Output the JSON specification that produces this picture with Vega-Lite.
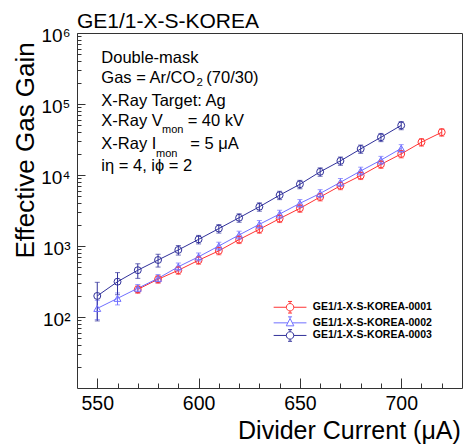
{
  "$schema": "https://vega.github.io/schema/vega-lite/v6.json",
  "width": 385,
  "height": 355,
  "autosize": {"type": "none"},
  "padding": {"left": 77, "top": 33, "right": 1, "bottom": 56},
  "background": "white",
  "title": {"text": "GE1/1-X-S-KOREA", "anchor": "start", "frame": "group", "font": "Liberation Sans", "fontSize": 21, "fontWeight": "normal", "color": "black", "baseline": "alphabetic", "offset": -23},
  "config": {
    "view": {"stroke": "#333", "strokeWidth": 1},
    "font": "Liberation Sans"
  },
  "datasets": {
    "gain": [
      {"series": "GE1/1-X-S-KOREA-0001", "x": 570, "g": 245, "lo": 216, "hi": 274},
      {"series": "GE1/1-X-S-KOREA-0001", "x": 580, "g": 340, "lo": 299, "hi": 381},
      {"series": "GE1/1-X-S-KOREA-0001", "x": 590, "g": 455, "lo": 400, "hi": 510},
      {"series": "GE1/1-X-S-KOREA-0001", "x": 600, "g": 630, "lo": 554, "hi": 706},
      {"series": "GE1/1-X-S-KOREA-0001", "x": 610, "g": 855, "lo": 752, "hi": 958},
      {"series": "GE1/1-X-S-KOREA-0001", "x": 620, "g": 1230, "lo": 1082, "hi": 1378},
      {"series": "GE1/1-X-S-KOREA-0001", "x": 630, "g": 1720, "lo": 1514, "hi": 1926},
      {"series": "GE1/1-X-S-KOREA-0001", "x": 640, "g": 2430, "lo": 2138, "hi": 2722},
      {"series": "GE1/1-X-S-KOREA-0001", "x": 650, "g": 3390, "lo": 2983, "hi": 3797},
      {"series": "GE1/1-X-S-KOREA-0001", "x": 660, "g": 4900, "lo": 4312, "hi": 5488},
      {"series": "GE1/1-X-S-KOREA-0001", "x": 670, "g": 7050, "lo": 6204, "hi": 7896},
      {"series": "GE1/1-X-S-KOREA-0001", "x": 680, "g": 9800, "lo": 8624, "hi": 10976},
      {"series": "GE1/1-X-S-KOREA-0001", "x": 690, "g": 14100, "lo": 12408, "hi": 15792},
      {"series": "GE1/1-X-S-KOREA-0001", "x": 700, "g": 19800, "lo": 17424, "hi": 22176},
      {"series": "GE1/1-X-S-KOREA-0001", "x": 710, "g": 29000, "lo": 25520, "hi": 32480},
      {"series": "GE1/1-X-S-KOREA-0001", "x": 720, "g": 40000, "lo": 35200, "hi": 44800},
      {"series": "GE1/1-X-S-KOREA-0002", "x": 550, "g": 132, "lo": 92, "hi": 172},
      {"series": "GE1/1-X-S-KOREA-0002", "x": 560, "g": 183, "lo": 148, "hi": 218},
      {"series": "GE1/1-X-S-KOREA-0002", "x": 570, "g": 254, "lo": 221, "hi": 287},
      {"series": "GE1/1-X-S-KOREA-0002", "x": 580, "g": 350, "lo": 305, "hi": 396},
      {"series": "GE1/1-X-S-KOREA-0002", "x": 590, "g": 510, "lo": 444, "hi": 576},
      {"series": "GE1/1-X-S-KOREA-0002", "x": 600, "g": 705, "lo": 613, "hi": 797},
      {"series": "GE1/1-X-S-KOREA-0002", "x": 610, "g": 1000, "lo": 870, "hi": 1130},
      {"series": "GE1/1-X-S-KOREA-0002", "x": 620, "g": 1430, "lo": 1244, "hi": 1616},
      {"series": "GE1/1-X-S-KOREA-0002", "x": 630, "g": 2020, "lo": 1757, "hi": 2283},
      {"series": "GE1/1-X-S-KOREA-0002", "x": 640, "g": 2820, "lo": 2453, "hi": 3187},
      {"series": "GE1/1-X-S-KOREA-0002", "x": 650, "g": 3990, "lo": 3471, "hi": 4509},
      {"series": "GE1/1-X-S-KOREA-0002", "x": 660, "g": 5500, "lo": 4785, "hi": 6215},
      {"series": "GE1/1-X-S-KOREA-0002", "x": 670, "g": 7900, "lo": 6873, "hi": 8927},
      {"series": "GE1/1-X-S-KOREA-0002", "x": 680, "g": 11400, "lo": 9918, "hi": 12882},
      {"series": "GE1/1-X-S-KOREA-0002", "x": 690, "g": 16200, "lo": 14094, "hi": 18306},
      {"series": "GE1/1-X-S-KOREA-0002", "x": 700, "g": 23700, "lo": 20619, "hi": 26781},
      {"series": "GE1/1-X-S-KOREA-0003", "x": 550, "g": 198, "lo": 88, "hi": 308},
      {"series": "GE1/1-X-S-KOREA-0003", "x": 560, "g": 314, "lo": 206, "hi": 422},
      {"series": "GE1/1-X-S-KOREA-0003", "x": 570, "g": 456, "lo": 350, "hi": 562},
      {"series": "GE1/1-X-S-KOREA-0003", "x": 580, "g": 635, "lo": 505, "hi": 765},
      {"series": "GE1/1-X-S-KOREA-0003", "x": 590, "g": 880, "lo": 745, "hi": 1015},
      {"series": "GE1/1-X-S-KOREA-0003", "x": 600, "g": 1240, "lo": 1070, "hi": 1410},
      {"series": "GE1/1-X-S-KOREA-0003", "x": 610, "g": 1760, "lo": 1520, "hi": 2000},
      {"series": "GE1/1-X-S-KOREA-0003", "x": 620, "g": 2500, "lo": 2160, "hi": 2840},
      {"series": "GE1/1-X-S-KOREA-0003", "x": 630, "g": 3570, "lo": 3090, "hi": 4050},
      {"series": "GE1/1-X-S-KOREA-0003", "x": 640, "g": 5200, "lo": 4500, "hi": 5900},
      {"series": "GE1/1-X-S-KOREA-0003", "x": 650, "g": 7400, "lo": 6400, "hi": 8400},
      {"series": "GE1/1-X-S-KOREA-0003", "x": 660, "g": 11100, "lo": 9600, "hi": 12600},
      {"series": "GE1/1-X-S-KOREA-0003", "x": 670, "g": 15800, "lo": 13700, "hi": 17900},
      {"series": "GE1/1-X-S-KOREA-0003", "x": 680, "g": 23300, "lo": 20200, "hi": 26400},
      {"series": "GE1/1-X-S-KOREA-0003", "x": 690, "g": 34000, "lo": 29500, "hi": 38500},
      {"series": "GE1/1-X-S-KOREA-0003", "x": 700, "g": 50000, "lo": 43400, "hi": 56600}
    ]
  },
  "resolve": {"scale": {"color": "independent", "shape": "independent"}, "axis": {"x": "independent", "y": "independent"}},
  "layer": [
    {
      "data": {"name": "gain"},
      "mark": {"type": "line", "strokeWidth": 1},
      "encoding": {
        "x": {
          "field": "x", "type": "quantitative",
          "scale": {"domain": [540, 730], "nice": false, "zero": false},
          "axis": {
            "orient": "bottom",
            "values": [550, 600, 650, 700],
            "tickSize": -10,
            "tickColor": "#333", "tickWidth": 1,
            "domain": false, "grid": false,
            "labelFont": "Liberation Sans", "labelFontSize": 19.5, "labelColor": "black",
            "labelBaseline": "alphabetic", "labelPadding": 31,
            "labelOverlap": false, "labelFlush": false,
            "title": "Divider Current (μA)",
            "titleFont": "Liberation Sans", "titleFontSize": 25, "titleFontWeight": "normal", "titleColor": "black",
            "titleX": 383.3, "titleY": 50.3, "titleAlign": "right", "titleBaseline": "alphabetic"
          }
        },
        "y": {
          "field": "g", "type": "quantitative",
          "scale": {"type": "log", "domain": [10, 1000000], "nice": false, "zero": false},
          "axis": {
            "orient": "left",
            "values": [100, 1000, 10000, 100000, 1000000],
            "labelExpr": "datum.value === 100 ? '10²' : datum.value === 1000 ? '10³' : datum.value === 10000 ? '10⁴' : datum.value === 100000 ? '10⁵' : '10⁶'",
            "tickSize": -8,
            "tickColor": "#333", "tickWidth": 1,
            "domain": false, "grid": false,
            "labelFont": "Liberation Sans", "labelFontSize": 19, "labelColor": "black",
            "labelBaseline": "middle", "labelPadding": 15, "labelOffset": 2,
            "labelOverlap": false, "labelFlush": false,
            "title": "Effective Gas Gain",
            "titleFont": "Liberation Sans", "titleFontSize": 26, "titleFontWeight": "normal", "titleColor": "black",
            "titleAngle": -90, "titleX": -43.7, "titleY": 8.7, "titleAlign": "right", "titleBaseline": "alphabetic"
          }
        },
        "detail": {"field": "series"},
        "color": {"field": "series", "type": "nominal", "legend": null,
          "scale": {"domain": ["GE1/1-X-S-KOREA-0001", "GE1/1-X-S-KOREA-0002", "GE1/1-X-S-KOREA-0003"], "range": ["#ff3333", "#7070ff", "#30309a"]}}
      }
    },
    {
      "data": {"name": "gain"},
      "mark": {"type": "errorbar", "ticks": {"size": 5, "thickness": 1}, "rule": {"strokeWidth": 1}},
      "encoding": {
        "x": {"field": "x", "type": "quantitative", "axis": null},
        "y": {"field": "lo", "type": "quantitative", "axis": null},
        "y2": {"field": "hi"},
        "color": {"field": "series", "type": "nominal", "legend": null,
          "scale": {"domain": ["GE1/1-X-S-KOREA-0001", "GE1/1-X-S-KOREA-0002", "GE1/1-X-S-KOREA-0003"], "range": ["#ff3333", "#7070ff", "#30309a"]}}
      }
    },
    {
      "data": {"name": "gain"},
      "mark": {"type": "point", "filled": false, "strokeWidth": 1, "size": 48, "opacity": 1},
      "encoding": {
        "x": {"field": "x", "type": "quantitative",
          "axis": {"orient": "bottom", "values": [560, 570, 580, 590, 610, 620, 630, 640, 660, 670, 680, 690, 710, 720],
            "tickSize": -5, "tickColor": "#333", "tickWidth": 1, "labels": false, "domain": false, "grid": false, "title": null}},
        "y": {"field": "g", "type": "quantitative",
          "axis": {"orient": "left", "values": [20, 30, 40, 50, 60, 70, 80, 90, 200, 300, 400, 500, 600, 700, 800, 900, 2000, 3000, 4000, 5000, 6000, 7000, 8000, 9000, 20000, 30000, 40000, 50000, 60000, 70000, 80000, 90000, 200000, 300000, 400000, 500000, 600000, 700000, 800000, 900000],
            "tickSize": -4, "tickColor": "#333", "tickWidth": 1, "labels": false, "domain": false, "grid": false, "title": null}},
        "shape": {"field": "series", "type": "nominal", "legend": null,
          "scale": {"domain": ["GE1/1-X-S-KOREA-0001", "GE1/1-X-S-KOREA-0002", "GE1/1-X-S-KOREA-0003"], "range": ["circle", "triangle-up", "circle"]}},
        "color": {"field": "series", "type": "nominal", "legend": null,
          "scale": {"domain": ["GE1/1-X-S-KOREA-0001", "GE1/1-X-S-KOREA-0002", "GE1/1-X-S-KOREA-0003"], "range": ["#ff3333", "#7070ff", "#30309a"]}}
      }
    },
    {
      "data": {"name": "gain"},
      "transform": [{"filter": "false"}],
      "mark": {"type": "point", "filled": false, "strokeWidth": 1, "size": 64, "opacity": 1},
      "encoding": {
        "x": {"field": "x", "type": "quantitative", "axis": null},
        "y": {"field": "g", "type": "quantitative", "axis": null},
        "shape": {"field": "series", "type": "nominal",
          "scale": {"domain": ["GE1/1-X-S-KOREA-0001", "GE1/1-X-S-KOREA-0002", "GE1/1-X-S-KOREA-0003"],
            "range": [
              "M-4.1,0L-0.93,0M0.93,0L4.1,0M-0.93,0A0.93,0.93,0,1,1,0.93,0A0.93,0.93,0,1,1,-0.93,0M0,-0.93L0,-1.45M-0.5,-1.45L0.5,-1.45M0,0.93L0,1.45M-0.5,1.45L0.5,1.45",
              "M-4.1,0L-0.565,0M0.565,0L4.1,0M0,-1.1L0.95,0.75L-0.95,0.75ZM0,-1.1L0,-1.5M-0.5,-1.5L0.5,-1.5",
              "M-4.1,0L-0.93,0M0.93,0L4.1,0M-0.93,0A0.93,0.93,0,1,1,0.93,0A0.93,0.93,0,1,1,-0.93,0M0,-0.93L0,-1.45M-0.5,-1.45L0.5,-1.45M0,0.93L0,1.45M-0.5,1.45L0.5,1.45"
            ]},
          "legend": {"orient": "none", "legendX": 207.8, "legendY": 269, "title": null, "padding": 0,
            "labelFont": "Liberation Sans", "labelFontSize": 10.5, "labelFontWeight": "bold", "labelColor": "black",
            "labelOffset": 17.5, "symbolSize": 64, "symbolStrokeWidth": 1, "rowPadding": -1.4, "symbolFillColor": "transparent"}},
        "color": {"field": "series", "type": "nominal",
          "scale": {"domain": ["GE1/1-X-S-KOREA-0001", "GE1/1-X-S-KOREA-0002", "GE1/1-X-S-KOREA-0003"], "range": ["#ff3333", "#7070ff", "#30309a"]},
          "legend": {"orient": "none", "legendX": 207.8, "legendY": 269, "title": null, "padding": 0,
            "labelFont": "Liberation Sans", "labelFontSize": 10.5, "labelFontWeight": "bold", "labelColor": "black",
            "labelOffset": 17.5, "symbolSize": 64, "symbolStrokeWidth": 1, "rowPadding": -1.4, "symbolFillColor": "transparent"}}
      }
    },
    {
      "data": {"values": [{}]},
      "mark": {"type": "text", "text": "Double-mask", "align": "left", "baseline": "alphabetic", "font": "Liberation Sans", "fontSize": 16.5, "color": "black"},
      "encoding": {"x": {"datum": 552.0, "type": "quantitative", "axis": null}, "y": {"datum": 378000, "type": "quantitative", "axis": null}}
    },
    {
      "data": {"values": [{}]},
      "mark": {"type": "text", "text": "Gas = Ar/CO", "align": "left", "baseline": "alphabetic", "font": "Liberation Sans", "fontSize": 16.5, "color": "black"},
      "encoding": {"x": {"datum": 552.0, "type": "quantitative", "axis": null}, "y": {"datum": 195600, "type": "quantitative", "axis": null}}
    },
    {
      "data": {"values": [{}]},
      "mark": {"type": "text", "text": "2", "align": "left", "baseline": "alphabetic", "font": "Liberation Sans", "fontSize": 11.5, "color": "black"},
      "encoding": {"x": {"datum": 599.0, "type": "quantitative", "axis": null}, "y": {"datum": 179300, "type": "quantitative", "axis": null}}
    },
    {
      "data": {"values": [{}]},
      "mark": {"type": "text", "text": "(70/30)", "align": "left", "baseline": "alphabetic", "font": "Liberation Sans", "fontSize": 16.5, "color": "black"},
      "encoding": {"x": {"datum": 603.8, "type": "quantitative", "axis": null}, "y": {"datum": 195600, "type": "quantitative", "axis": null}}
    },
    {
      "data": {"values": [{}]},
      "mark": {"type": "text", "text": "X-Ray Target: Ag", "align": "left", "baseline": "alphabetic", "font": "Liberation Sans", "fontSize": 16.5, "color": "black"},
      "encoding": {"x": {"datum": 552.0, "type": "quantitative", "axis": null}, "y": {"datum": 94650, "type": "quantitative", "axis": null}}
    },
    {
      "data": {"values": [{}]},
      "mark": {"type": "text", "text": "X-Ray V", "align": "left", "baseline": "alphabetic", "font": "Liberation Sans", "fontSize": 16.5, "color": "black"},
      "encoding": {"x": {"datum": 552.0, "type": "quantitative", "axis": null}, "y": {"datum": 48980, "type": "quantitative", "axis": null}}
    },
    {
      "data": {"values": [{}]},
      "mark": {"type": "text", "text": "mon", "align": "left", "baseline": "alphabetic", "font": "Liberation Sans", "fontSize": 11, "color": "black"},
      "encoding": {"x": {"datum": 581.95, "type": "quantitative", "axis": null}, "y": {"datum": 39430, "type": "quantitative", "axis": null}}
    },
    {
      "data": {"values": [{}]},
      "mark": {"type": "text", "text": "= 40 kV", "align": "left", "baseline": "alphabetic", "font": "Liberation Sans", "fontSize": 16.5, "color": "black"},
      "encoding": {"x": {"datum": 594.6, "type": "quantitative", "axis": null}, "y": {"datum": 48980, "type": "quantitative", "axis": null}}
    },
    {
      "data": {"values": [{}]},
      "mark": {"type": "text", "text": "X-Ray I", "align": "left", "baseline": "alphabetic", "font": "Liberation Sans", "fontSize": 16.5, "color": "black"},
      "encoding": {"x": {"datum": 552.0, "type": "quantitative", "axis": null}, "y": {"datum": 23240, "type": "quantitative", "axis": null}}
    },
    {
      "data": {"values": [{}]},
      "mark": {"type": "text", "text": "mon", "align": "left", "baseline": "alphabetic", "font": "Liberation Sans", "fontSize": 11, "color": "black"},
      "encoding": {"x": {"datum": 579.0, "type": "quantitative", "axis": null}, "y": {"datum": 18100, "type": "quantitative", "axis": null}}
    },
    {
      "data": {"values": [{}]},
      "mark": {"type": "text", "text": "= 5 μA", "align": "left", "baseline": "alphabetic", "font": "Liberation Sans", "fontSize": 16.5, "color": "black"},
      "encoding": {"x": {"datum": 595.9, "type": "quantitative", "axis": null}, "y": {"datum": 23240, "type": "quantitative", "axis": null}}
    },
    {
      "data": {"values": [{}]},
      "mark": {"type": "text", "text": "iη = 4, iϕ = 2", "align": "left", "baseline": "alphabetic", "font": "Liberation Sans", "fontSize": 16.5, "color": "black"},
      "encoding": {"x": {"datum": 552.0, "type": "quantitative", "axis": null}, "y": {"datum": 11380, "type": "quantitative", "axis": null}}
    }
  ]
}
